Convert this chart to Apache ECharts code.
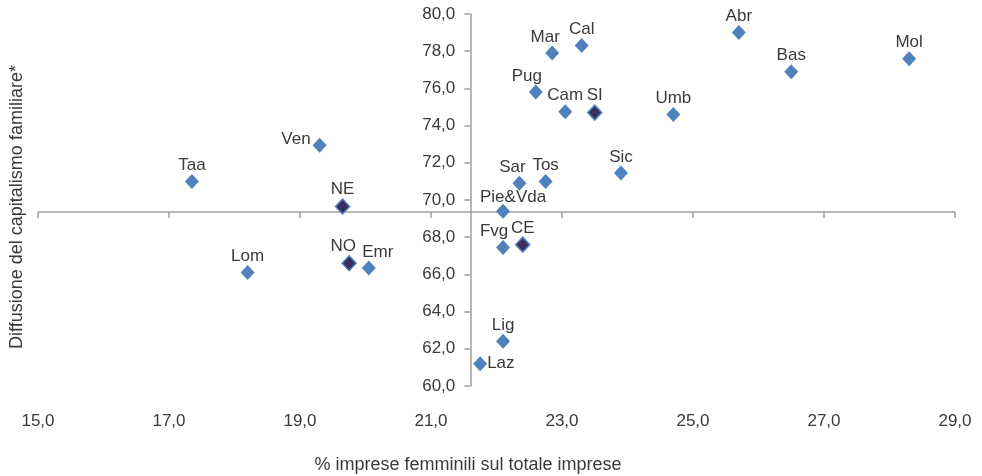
<!DOCTYPE html>
<html>
<head>
<meta charset="utf-8">
<script src="https://cdn.jsdelivr.net/npm/echarts@6/dist/echarts.min.js"></script>
<style>
html,body{margin:0;padding:0;background:#fff;}
#chart{width:982px;height:476px;}
</style>
</head>
<body>
<div id="chart"></div>
<script>
// Regions
const regionNames = ['Abr','Bas','Mol','Mar','Cal','Pug','Cam','Umb','Sic','Sar','Tos','Pie&Vda','Taa','Ven','Lom','Emr','Laz','Fvg','Lig'];
const regionX = [25.7, 26.5, 28.3, 22.85, 23.3, 22.6, 23.05, 24.7, 23.9, 22.35, 22.75, 22.1, 17.35, 19.3, 18.2, 20.05, 21.75, 22.1, 22.1];
const regionY = [79.0, 76.9, 77.6, 77.9, 78.3, 75.8, 74.75, 74.6, 71.45, 70.9, 71.0, 69.4, 71.0, 72.95, 66.1, 66.35, 61.2, 67.45, 62.4];
// Macro-areas
const areaNames = ['NE','NO','CE','SI'];
const areaX = [19.65, 19.75, 22.4, 23.5];
const areaY = [69.65, 66.6, 67.6, 74.7];
// Axis crossing (Italy average)
const crossX = 21.6;
const crossY = 69.35;
// Axes
const xMin = 15, xMax = 29, xStep = 2;
const yMin = 60, yMax = 80, yStep = 2;
const xTitle = '% imprese femminili sul totale imprese';
const yTitle = 'Diffusione del capitalismo familiare*';

const FONT = 'Liberation Sans';
const TXT = '#3a3a3a';
const AX = '#a0a0a0';
const BLUE = '#4f81bd';
const DARK = '#3b2d5c';

const labelTweaks = {
  'Pug': {offset: [-9, 0]},
  'Mar': {offset: [-7, 0]},
  'Sar': {offset: [-7, 0]},
  'Fvg': {offset: [-9, 0]},
  'NO': {offset: [-6, 0]},
  'Emr': {offset: [9, 0]},
  'Pie&Vda': {offset: [10, 2]},
  'Ven': {position: 'left', distance: 2, offset: [0, -6]},
  'Laz': {position: 'right', distance: 0}
};

function mk(names, xs, ys) {
  return names.map((n, i) => {
    const d = {name: n, value: [xs[i], ys[i]]};
    if (labelTweaks[n]) d.label = labelTweaks[n];
    return d;
  });
}
const fmt = v => v.toFixed(1).replace('.', ',');

const chart = echarts.init(document.getElementById('chart'), null, {renderer: 'canvas'});
const grid = {left: 38, right: 27, top: 14, bottom: 90, containLabel: false, outerBoundsMode: 'none'};
const labelBase = {show: true, position: 'top', distance: 0, formatter: '{b}', color: TXT, fontFamily: FONT, fontSize: 17};

const option = {
  animation: false,
  backgroundColor: '#fff',
  grid: grid,
  xAxis: [
    {type: 'value', min: xMin, max: xMax, interval: xStep, position: 'bottom',
     axisLine: {show: false}, axisTick: {show: false}, splitLine: {show: false},
     axisLabel: {formatter: fmt, margin: 27, color: TXT, fontFamily: FONT, fontSize: 17}},
    {type: 'value', min: xMin, max: xMax, interval: xStep, position: 'bottom', offset: 0,
     axisLine: {show: true, lineStyle: {color: AX, width: 1.5}},
     axisTick: {show: true, length: 6, lineStyle: {color: AX, width: 1.5}},
     axisLabel: {show: false}, splitLine: {show: false}}
  ],
  yAxis: [
    {type: 'value', min: yMin, max: yMax, interval: yStep, position: 'left', offset: 0,
     axisLine: {show: true, lineStyle: {color: AX, width: 1.5}},
     axisTick: {show: true, length: 6, lineStyle: {color: AX, width: 1.5}},
     splitLine: {show: false},
     axisLabel: {formatter: fmt, margin: 15, color: TXT, fontFamily: FONT, fontSize: 17}}
  ],
  graphic: [
    {type: 'text', x: 17, y: 207, rotation: Math.PI / 2,
     style: {text: yTitle, fill: TXT, font: '18px "' + FONT + '"', align: 'center', verticalAlign: 'middle'}},
    {type: 'text', x: 468, y: 465,
     style: {text: xTitle, fill: TXT, font: '18px "' + FONT + '"', align: 'center', verticalAlign: 'middle'}}
  ],
  series: [
    {type: 'scatter', name: 'Regioni', xAxisIndex: 0, yAxisIndex: 0, symbol: 'diamond', symbolSize: [14, 15],
     itemStyle: {color: BLUE, opacity: 1}, label: labelBase, data: mk(regionNames, regionX, regionY)},
    {type: 'scatter', name: 'Aree', xAxisIndex: 0, yAxisIndex: 0, symbol: 'diamond', symbolSize: [14, 15],
     itemStyle: {color: DARK, opacity: 1, borderColor: BLUE, borderWidth: 1.5}, label: labelBase, data: mk(areaNames, areaX, areaY)}
  ]
};
chart.setOption(option);
function placeAxes() {
  const px = chart.convertToPixel({xAxisIndex: 0}, crossX);
  const py = chart.convertToPixel({yAxisIndex: 0}, crossY);
  const gridLeftPx = chart.convertToPixel({xAxisIndex: 0}, xMin);
  const gridBottomPx = chart.convertToPixel({yAxisIndex: 0}, yMin);
  chart.setOption({
    xAxis: [{}, {offset: -(gridBottomPx - py)}],
    yAxis: [{offset: -(px - gridLeftPx)}]
  });
}
placeAxes();
placeAxes();
placeAxes();
</script>
</body>
</html>
